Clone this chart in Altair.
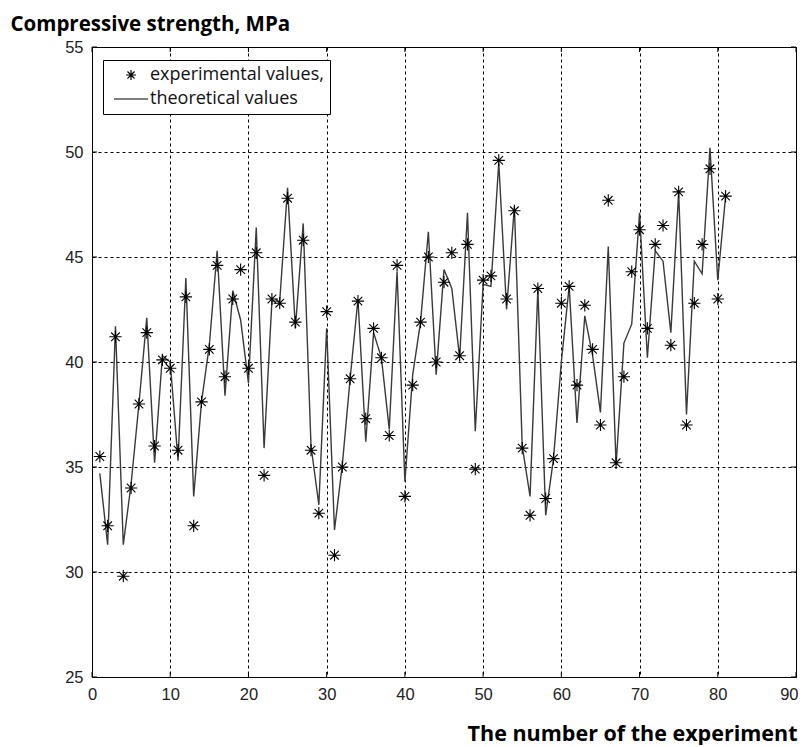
import altair as alt
import pandas as pd

experiment = list(range(1, 82))
experimental = [
    35.5, 32.2, 41.2, 29.8, 34.0, 38.0, 41.4, 36.0, 40.1, 39.7,
    35.8, 43.1, 32.2, 38.1, 40.6, 44.6, 39.3, 43.0, 44.4, 39.7,
    45.2, 34.6, 43.0, 42.8, 47.8, 41.9, 45.8, 35.8, 32.8, 42.4,
    30.8, 35.0, 39.2, 42.9, 37.3, 41.6, 40.2, 36.5, 44.6, 33.6,
    38.9, 41.9, 45.0, 40.0, 43.8, 45.2, 40.3, 45.6, 34.9, 43.9,
    44.1, 49.6, 43.0, 47.2, 35.9, 32.7, 43.5, 33.5, 35.4, 42.8,
    43.6, 38.9, 42.7, 40.6, 37.0, 47.7, 35.2, 39.3, 44.3, 46.3,
    41.6, 45.6, 46.5, 40.8, 48.1, 37.0, 42.8, 45.6, 49.2, 43.0,
    47.9,
]
theoretical = [
    34.7, 31.3, 41.7, 31.3, 34.2, 38.0, 42.1, 35.2, 40.3, 40.0,
    35.3, 44.0, 33.6, 38.1, 40.8, 45.3, 38.4, 43.4, 42.0, 39.0,
    46.4, 35.9, 42.9, 42.9, 48.3, 41.6, 46.6, 36.0, 33.2, 41.6,
    32.0, 35.1, 39.2, 43.0, 36.2, 41.4, 40.2, 36.8, 44.3, 34.3,
    39.4, 41.9, 46.2, 39.4, 44.4, 43.5, 40.2, 47.1, 36.7, 43.7,
    43.6, 49.5, 42.5, 47.4, 36.0, 33.6, 43.5, 32.7, 35.4, 40.0,
    43.6, 37.1, 42.2, 40.3, 37.6, 45.5, 35.1, 40.9, 41.8, 47.1,
    40.2, 45.3, 44.8, 41.4, 48.1, 37.5, 44.8, 44.2, 50.2, 43.9,
    47.9,
]
series_names = ["experimental values,", "theoretical values"]
x_ticks = list(range(0, 91, 10))
y_ticks = list(range(25, 56, 5))

df = pd.DataFrame({
    "n": experiment,
    "exp": experimental,
    "theo": theoretical,
    "series": [series_names[0]] * len(experiment),
})
xt = pd.DataFrame({"n": x_ticks})
yt = pd.DataFrame({"v": y_ticks})

star = "M-1,0L1,0M0,-1L0,1M-0.7,-0.7L0.7,0.7M-0.7,0.7L0.7,-0.7"
dash = "M-3.4,0L3.4,0"

tick_font = "Liberation Sans Narrow, Liberation Sans, Arial, sans-serif"

x_axis = alt.Axis(
    values=x_ticks, title="The number of the experiment",
    titleX=705, titleY=57, titleAlign="right", titleBaseline="middle",
    titleFont="Open Sans", titleFontWeight="bold", titleFontSize=21.5, titleColor="black",
    labelFont=tick_font, labelFontSize=16.5, labelColor="#222", labelPadding=9,
    labelFlush=False, ticks=False, domain=False,
    labelAlign={"condition": {"test": "datum.value == 90", "value": "right"}, "value": "center"},
    labelOffset={"condition": {"test": "datum.value == 90", "value": 2}, "value": 0},
    grid=True, gridColor="black", gridDash=[3, 3], gridOpacity=1, gridWidth=1,
)
y_axis = alt.Axis(
    values=y_ticks, title="Compressive strength, MPa",
    titleAngle=0, titleX=-82, titleY=-23, titleAlign="left", titleBaseline="middle",
    titleFont="Open Sans", titleFontWeight="bold", titleFontSize=20.5, titleColor="black",
    labelFont=tick_font, labelFontSize=16.5, labelColor="#222", labelPadding=9,
    labelFlush=False, ticks=False, domain=False,
    grid=True, gridColor="black", gridDash=[3, 3], gridOpacity=1, gridWidth=1,
)
x_scale = alt.Scale(domain=[0, 90], nice=False)
y_scale = alt.Scale(domain=[25, 55], nice=False)

line = alt.Chart(df).mark_line(color="#3a3a3a", strokeWidth=1.4).encode(
    x=alt.X("n:Q", scale=x_scale, axis=x_axis),
    y=alt.Y("theo:Q", scale=y_scale, axis=y_axis),
)

points = alt.Chart(df).mark_point(filled=False, size=150, strokeWidth=1.1, color="black", opacity=1).encode(
    x=alt.X("n:Q", scale=x_scale, axis=x_axis),
    y=alt.Y("exp:Q", scale=y_scale, axis=y_axis),
    shape=alt.Shape(
        "series:N",
        scale=alt.Scale(domain=series_names, range=[star, dash]),
        legend=alt.Legend(
            title=None, orient="none", legendX=11, legendY=13,
            strokeColor="black", fillColor="white", padding=6, cornerRadius=0,
            symbolSize=100, symbolStrokeWidth=1.2, symbolStrokeColor="black",
            symbolFillColor="transparent", symbolOffset=13, labelOffset=10,
            labelFont="Open Sans", labelFontSize=18, labelColor="#111", rowPadding=6,
            labelLimit=400,
        ),
    ),
)

# inward ticks on all four sides
xt_bottom = alt.Chart(xt).mark_rule(color="black", strokeWidth=1).encode(
    x=alt.X("n:Q", scale=x_scale, axis=x_axis), y=alt.value(630), y2=alt.value(625))
xt_top = alt.Chart(xt).mark_rule(color="black", strokeWidth=1).encode(
    x=alt.X("n:Q", scale=x_scale, axis=x_axis), y=alt.value(0), y2=alt.value(5))
yt_left = alt.Chart(yt).mark_rule(color="black", strokeWidth=1).encode(
    y=alt.Y("v:Q", scale=y_scale, axis=y_axis), x=alt.value(0), x2=alt.value(5))
yt_right = alt.Chart(yt).mark_rule(color="black", strokeWidth=1).encode(
    y=alt.Y("v:Q", scale=y_scale, axis=y_axis), x=alt.value(704), x2=alt.value(699))

chart = alt.layer(line, points, xt_bottom, xt_top, yt_left, yt_right).properties(
    width=704, height=630,
    autosize=alt.AutoSizeParams(type="none"),
    padding={"left": 84, "top": 39, "right": 2, "bottom": 68},
    background="white",
).configure_view(stroke="black", strokeWidth=1)

chart.save("out.html", embed_options={"renderer": "svg", "actions": False})
